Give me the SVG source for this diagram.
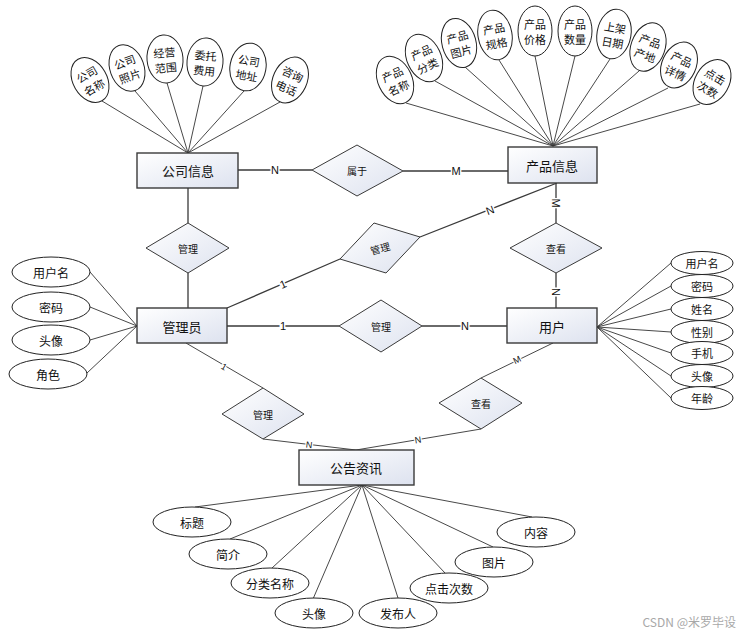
<svg xmlns="http://www.w3.org/2000/svg" width="745" height="636" viewBox="0 0 745 636">
<defs>
<linearGradient id="g" x1="0" y1="0" x2="1" y2="1">
<stop offset="0" stop-color="#ffffff"/>
<stop offset="1" stop-color="#dde2ef"/>
</linearGradient>
<style>
.ent{fill:url(#g);stroke:#3a3a3a;stroke-width:1.4}
.rel{fill:url(#g);stroke:#3a3a3a;stroke-width:1}
.att{fill:#fff;stroke:#222;stroke-width:1}
.ln{stroke:#333;stroke-width:0.9;fill:none}
.lk{stroke:#3a3a3a;stroke-width:1.3;fill:none}
text{font-family:"Noto Sans CJK SC","Liberation Sans",sans-serif;fill:#111;text-anchor:middle;dominant-baseline:central}
.te{font-size:13px}
.tr{font-size:10px}
.ta{font-size:11px}
.tb{font-size:12px}
.card{font-family:"Liberation Sans",sans-serif;font-size:11px;stroke:#fff;stroke-width:3;paint-order:stroke}
.cs{font-family:"Liberation Sans",sans-serif;font-size:9px;stroke:#fff;stroke-width:2.5;paint-order:stroke}
.wm{font-size:12px;fill:#a8a8a8;text-anchor:end}
</style>
</defs>
<rect width="745" height="636" fill="#fff"/>

<g id="connectors">
<!-- 公司信息 attributes -->
<path class="ln" d="M102,101L188,153M135,91L188,153M167,83L188,153M203,86L188,153M244,91L188,153M280,102L188,153"/>
<!-- 产品信息 attributes -->
<path class="ln" d="M406,103L553,146M435,81L553,146M465,67L553,146M499,60L553,146M535,56L553,146M575,56L553,146M610,59L553,146M639,71L553,146M668,88L553,146M700,104L553,146"/>
<!-- 管理员 attributes -->
<path class="ln" d="M90,272L137,326M90,307L137,326M90,340L137,326M87,373L137,326"/>
<!-- 用户 attributes -->
<path class="ln" d="M671,263L597,327M671,286L597,327M671,309L597,327M671,332L597,327M671,353L597,327M671,376L597,327M671,398L597,327"/>
<!-- 公告资讯 attributes -->
<path class="ln" d="M195,507L362,485M230,539L362,485M272,568L362,485M313,599L362,485M398,598L362,485M445,573L362,485M493,547L362,485M532,517L362,485"/>
<!-- relationships -->
<path class="lk" d="M238,170L312,170M403,171L508,171"/>
<path class="lk" d="M188,188L188,223M188,273L188,308"/>
<path class="lk" d="M227,308L340,259M420,237L557,183"/>
<path class="lk" d="M556,183L556,223M556,273L556,308"/>
<path class="lk" d="M227,326L339,326M422,326L507,326"/>
<path class="ln" d="M186,343L263,388M263,439L356,450"/>
<path class="ln" d="M553,343L481,378M481,429L356,450"/>
<text class="card" x="275" y="170">N</text>
<text class="card" x="456" y="171">M</text>
<text class="card" x="283" y="284" transform="rotate(-23 283 284)">1</text>
<text class="card" x="490" y="210" transform="rotate(-21 490 210)">N</text>
<text class="card" x="556" y="203" transform="rotate(90 556 203)">M</text>
<text class="card" x="556" y="292" transform="rotate(90 556 292)">N</text>
<text class="card" x="283" y="326">1</text>
<text class="card" x="465" y="326">N</text>
<text class="cs" x="224" y="367" transform="rotate(30 224 367)">1</text>
<text class="cs" x="309" y="445" transform="rotate(7 309 445)">N</text>
<text class="cs" x="517" y="360" transform="rotate(-26 517 360)">M</text>
<text class="cs" x="418" y="440" transform="rotate(-9 418 440)">N</text>
</g>

<g id="e-company"><rect class="ent" x="137" y="153" width="101" height="35"/><text class="te" x="188" y="170">公司信息</text></g>
<g id="e-product"><rect class="ent" x="508" y="147" width="89" height="36"/><text class="te" x="552" y="165">产品信息</text></g>
<g id="e-admin"><rect class="ent" x="137" y="308" width="90" height="35"/><text class="te" x="182" y="326">管理员</text></g>
<g id="e-user"><rect class="ent" x="507" y="308" width="90" height="35"/><text class="te" x="552" y="326">用户</text></g>
<g id="e-notice"><rect class="ent" x="299" y="450" width="115" height="35"/><text class="te" x="356" y="467">公告资讯</text></g>

<g id="r-belong"><polygon class="rel" points="312,170 357,145 403,171 357,196"/><text class="tr" x="357" y="170">属于</text></g>
<g id="r-manage1"><polygon class="rel" points="146,248 188,223 229,248 188,273"/><text class="tr" x="188" y="248">管理</text></g>
<g id="r-manage2"><polygon class="rel" points="340,259 374,223 420,237 386,273"/><text class="tr" x="380" y="248" transform="rotate(-15 380 248)">管理</text></g>
<g id="r-view1"><polygon class="rel" points="510,248 556,223 602,248 556,273"/><text class="tr" x="556" y="248">查看</text></g>
<g id="r-manage3"><polygon class="rel" points="339,326 381,300 422,326 381,352"/><text class="tr" x="381" y="326">管理</text></g>
<g id="r-manage4"><polygon class="rel" points="222,414 263,388 304,414 263,439"/><text class="tr" x="263" y="414">管理</text></g>
<g id="r-view2"><polygon class="rel" points="439,403 481,378 522,403 481,429"/><text class="tr" x="481" y="403">查看</text></g>

<!-- 公司信息 attributes -->
<g id="a-c1" transform="translate(90,80) rotate(-30)"><ellipse class="att" rx="17" ry="24"/><text class="ta" y="-7">公司</text><text class="ta" y="8">名称</text></g>
<g id="a-c2" transform="translate(127,68) rotate(-20)"><ellipse class="att" rx="17" ry="24"/><text class="ta" y="-7">公司</text><text class="ta" y="8">照片</text></g>
<g id="a-c3" transform="translate(165,59) rotate(-5)"><ellipse class="att" rx="18" ry="24"/><text class="ta" y="-7">经营</text><text class="ta" y="8">范围</text></g>
<g id="a-c4" transform="translate(205,62) rotate(5)"><ellipse class="att" rx="18" ry="24"/><text class="ta" y="-7">委托</text><text class="ta" y="8">费用</text></g>
<g id="a-c5" transform="translate(248,67) rotate(10)"><ellipse class="att" rx="18" ry="24"/><text class="ta" y="-7">公司</text><text class="ta" y="8">地址</text></g>
<g id="a-c6" transform="translate(290,80) rotate(25)"><ellipse class="att" rx="17" ry="24"/><text class="ta" y="-7">咨询</text><text class="ta" y="8">电话</text></g>

<!-- 产品信息 attributes -->
<g id="a-p1" transform="translate(395,80) rotate(-25)"><ellipse class="att" rx="17" ry="25"/><text class="ta" y="-7">产品</text><text class="ta" y="8">名称</text></g>
<g id="a-p2" transform="translate(424,58) rotate(-25)"><ellipse class="att" rx="17" ry="25"/><text class="ta" y="-7">产品</text><text class="ta" y="8">分类</text></g>
<g id="a-p3" transform="translate(459,43) rotate(-15)"><ellipse class="att" rx="17" ry="25"/><text class="ta" y="-7">产品</text><text class="ta" y="8">图片</text></g>
<g id="a-p4" transform="translate(495,35) rotate(-10)"><ellipse class="att" rx="17" ry="25"/><text class="ta" y="-7">产品</text><text class="ta" y="8">规格</text></g>
<g id="a-p5" transform="translate(535,31)"><ellipse class="att" rx="17" ry="25"/><text class="ta" y="-7">产品</text><text class="ta" y="8">价格</text></g>
<g id="a-p6" transform="translate(575,31)"><ellipse class="att" rx="17" ry="25"/><text class="ta" y="-7">产品</text><text class="ta" y="8">数量</text></g>
<g id="a-p7" transform="translate(614,34) rotate(10)"><ellipse class="att" rx="17" ry="25"/><text class="ta" y="-7">上架</text><text class="ta" y="8">日期</text></g>
<g id="a-p8" transform="translate(648,47) rotate(20)"><ellipse class="att" rx="17" ry="25"/><text class="ta" y="-7">产品</text><text class="ta" y="8">产地</text></g>
<g id="a-p9" transform="translate(679,65) rotate(25)"><ellipse class="att" rx="17" ry="24"/><text class="ta" y="-7">产品</text><text class="ta" y="8">详情</text></g>
<g id="a-p10" transform="translate(712,82) rotate(30)"><ellipse class="att" rx="17" ry="24"/><text class="ta" y="-7">点击</text><text class="ta" y="8">次数</text></g>

<!-- 管理员 attributes -->
<g id="a-m1"><ellipse class="att" cx="51" cy="272" rx="39" ry="15"/><text class="tb" x="51" y="272">用户名</text></g>
<g id="a-m2"><ellipse class="att" cx="51" cy="307" rx="39" ry="15"/><text class="tb" x="51" y="307">密码</text></g>
<g id="a-m3"><ellipse class="att" cx="51" cy="340" rx="39" ry="15"/><text class="tb" x="51" y="340">头像</text></g>
<g id="a-m4"><ellipse class="att" cx="48" cy="374" rx="39" ry="15"/><text class="tb" x="48" y="374">角色</text></g>

<!-- 用户 attributes -->
<g id="a-u1"><ellipse class="att" cx="702" cy="263" rx="31" ry="11.5"/><text class="ta" x="702" y="263">用户名</text></g>
<g id="a-u2"><ellipse class="att" cx="702" cy="286" rx="31" ry="11.5"/><text class="ta" x="702" y="286">密码</text></g>
<g id="a-u3"><ellipse class="att" cx="702" cy="309" rx="31" ry="11.5"/><text class="ta" x="702" y="309">姓名</text></g>
<g id="a-u4"><ellipse class="att" cx="702" cy="332" rx="31" ry="11.5"/><text class="ta" x="702" y="332">性别</text></g>
<g id="a-u5"><ellipse class="att" cx="702" cy="353" rx="31" ry="11.5"/><text class="ta" x="702" y="353">手机</text></g>
<g id="a-u6"><ellipse class="att" cx="702" cy="376" rx="31" ry="11.5"/><text class="ta" x="702" y="376">头像</text></g>
<g id="a-u7"><ellipse class="att" cx="702" cy="398" rx="31" ry="11.5"/><text class="ta" x="702" y="398">年龄</text></g>

<!-- 公告资讯 attributes -->
<g id="a-n1"><ellipse class="att" cx="192" cy="522" rx="39" ry="15"/><text class="tb" x="192" y="522">标题</text></g>
<g id="a-n2"><ellipse class="att" cx="228" cy="554" rx="39" ry="15"/><text class="tb" x="228" y="554">简介</text></g>
<g id="a-n3"><ellipse class="att" cx="270" cy="583" rx="39" ry="15"/><text class="tb" x="270" y="583">分类名称</text></g>
<g id="a-n4"><ellipse class="att" cx="314" cy="613" rx="39" ry="15"/><text class="tb" x="314" y="613">头像</text></g>
<g id="a-n5"><ellipse class="att" cx="398" cy="613" rx="39" ry="15"/><text class="tb" x="398" y="613">发布人</text></g>
<g id="a-n6"><ellipse class="att" cx="449" cy="588" rx="39" ry="15"/><text class="tb" x="449" y="588">点击次数</text></g>
<g id="a-n7"><ellipse class="att" cx="494" cy="562" rx="39" ry="15"/><text class="tb" x="494" y="562">图片</text></g>
<g id="a-n8"><ellipse class="att" cx="536" cy="532" rx="39" ry="15"/><text class="tb" x="536" y="532">内容</text></g>

<text class="wm" x="736" y="621">CSDN @米罗毕设</text>
</svg>
